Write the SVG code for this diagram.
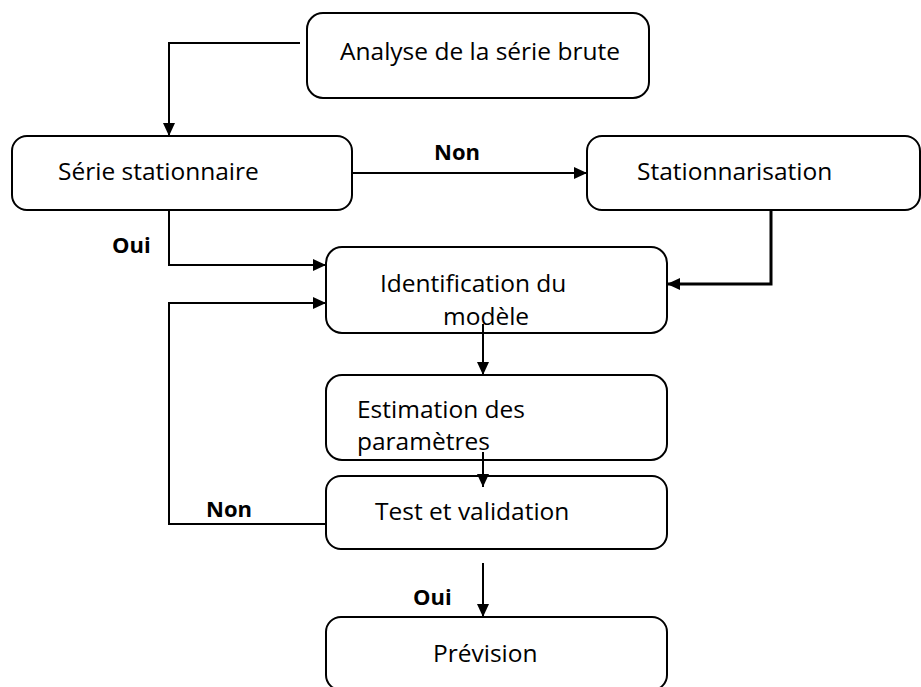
<svg xmlns="http://www.w3.org/2000/svg" width="921" height="687" viewBox="0 0 921 687">
<style>
.box{fill:#fff;stroke:#000;stroke-width:2}
.t{font-family:"Open Sans","Liberation Sans",sans-serif;font-size:24.5px;fill:#000}
.lb{font-family:"Open Sans","Liberation Sans",sans-serif;font-size:22px;font-weight:bold;fill:#000}
.c{fill:none;stroke:#000;stroke-width:2;marker-end:url(#ah)}
</style>
<defs>
<marker id="ah" markerUnits="userSpaceOnUse" markerWidth="14" markerHeight="14" refX="13" refY="6" orient="auto">
<path d="M0,0 L13,6 L0,12 z" fill="#000"/>
</marker>
</defs>
<rect width="921" height="687" fill="#fff"/>
<g id="n-analyse"><rect class="box" x="307" y="13" width="342" height="85" rx="16"/><text class="t" x="340" y="60">Analyse de la série brute</text></g>
<g id="n-serie"><rect class="box" x="12" y="136" width="340" height="74" rx="15"/><text class="t" x="58" y="180">Série stationnaire</text></g>
<g id="n-stat"><rect class="box" x="587" y="136" width="333" height="74" rx="15"/><text class="t" x="637" y="180">Stationnarisation</text></g>
<g id="n-ident"><rect class="box" x="326" y="247" width="341" height="86" rx="16"/><text class="t" x="380" y="292">Identification du</text><text class="t" x="443" y="325">modèle</text></g>
<g id="n-estim"><rect class="box" x="326" y="375" width="341" height="85" rx="16"/><text class="t" x="357" y="418">Estimation des</text><text class="t" x="357" y="450">paramètres</text></g>
<g id="n-test"><rect class="box" x="326" y="476" width="341" height="73" rx="15"/><text class="t" x="375" y="520">Test et validation</text></g>
<g id="n-prev"><rect class="box" x="326" y="617" width="341" height="73" rx="15"/><text class="t" x="433" y="662">Prévision</text></g>
<g id="connectors">
<path class="c" d="M300,43 H169 V136"/>
<path class="c" d="M352,173 H587"/>
<path class="c" d="M169,210 V265 H326"/>
<path class="c" d="M771,210 V284 H667" style="stroke-width:3"/>
<path class="c" d="M326,524 H169 V303 H326"/>
<path class="c" d="M483,324 V375"/>
<path class="c" d="M483,452 V487"/>
<path class="c" d="M483,563 V617"/>
<text class="lb" x="434" y="160">Non</text>
<text class="lb" x="112" y="253">Oui</text>
<text class="lb" x="206" y="517">Non</text>
<text class="lb" x="413" y="605">Oui</text>
</g>
</svg>
